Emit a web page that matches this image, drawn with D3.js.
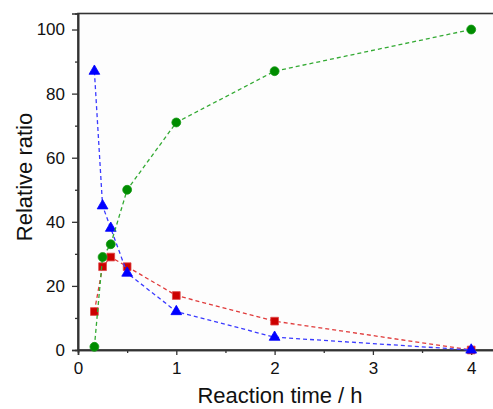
<!DOCTYPE html>
<html>
<head>
<meta charset="utf-8">
<script src="https://cdn.jsdelivr.net/npm/d3@7"></script>
<style>
  body { margin: 0; background: #ffffff; }
  text { font-family: "Liberation Sans", Arial, sans-serif; }
</style>
</head>
<body>
<div id="container"></div>
<script>
let w = 493;
let h = 409;

// reaction time in hours
let times = [1/6, 0.25, 1/3, 0.5, 1, 2, 4];
// relative ratios
let squares = [12, 26, 29, 26, 17, 9, 0];
let triangles = [87, 45, 38, 24, 12, 4, 0];
let circles = [1, 29, 33, 50, 71, 87, 100];

let xTicks = [0, 1, 2, 3, 4];
let xMinor = [0.5, 1.5, 2.5, 3.5];
let yTicks = [0, 20, 40, 60, 80, 100];
let yMinor = [10, 30, 50, 70, 90];

let viz = d3.select('#container')
              .append("svg")
                .attr("width", w)
                .attr("height", h)
                .style("background-color", "#ffffff")
;

let xScale = d3.scaleLinear().domain([0, 4.25]).range([78, 78 + 4.25 * 98.3]);
let yScale = d3.scaleLinear().domain([0, 105]).range([350, 13.5]);

// plot area
viz.append("rect")
    .attr("x", xScale(0))
    .attr("y", yScale(105))
    .attr("width", xScale(4.25) - xScale(0))
    .attr("height", yScale(0) - yScale(105))
    .attr("fill", "#fdfdfd")
    .attr("stroke", "#333")
    .attr("stroke-width", 1.6)
;

function styleAxis(g) {
  g.select(".domain").attr("stroke", "#333").attr("stroke-width", 1.6);
  g.selectAll(".tick line").attr("stroke", "#333").attr("stroke-width", 1.3);
  g.selectAll("text").attr("fill", "#111").style("font-size", "17px")
    .style("font-family", "'Liberation Sans', Arial, sans-serif");
}

//axes
viz.append("g")
    .attr("transform", "translate(0," + yScale(0) + ")")
    .call(d3.axisBottom(xScale).tickValues(xTicks).tickSize(5).tickPadding(7).tickFormat(d3.format("d")))
    .call(styleAxis)
;
viz.append("g")
    .attr("transform", "translate(0," + yScale(0) + ")")
    .call(d3.axisBottom(xScale).tickValues(xMinor).tickSize(3).tickFormat(""))
    .call(styleAxis)
;
viz.append("g")
    .attr("transform", "translate(" + xScale(0) + ",0)")
    .call(d3.axisLeft(yScale).tickValues(yTicks).tickSize(6).tickPadding(7))
    .call(styleAxis)
;
viz.append("g")
    .attr("transform", "translate(" + xScale(0) + ",0)")
    .call(d3.axisLeft(yScale).tickValues(yMinor).tickSize(3).tickFormat(""))
    .call(styleAxis)
;

//titles
viz.append("text")
    .text("Reaction time / h")
    .attr("x", 280)
    .attr("y", 403)
    .attr("text-anchor", "middle")
    .style("font-size", "22px")
    .attr("fill", "#111")
;
viz.append("text")
    .text("Relative ratio")
    .attr("transform", "translate(32,177) rotate(-90)")
    .attr("text-anchor", "middle")
    .style("font-size", "22px")
    .attr("fill", "#111")
;

let line = d3.line().x(d => xScale(d[0])).y(d => yScale(d[1]));

let series = [
  { name: "square", vals: squares, line: "#e03a3a", fill: "#cc0000", stroke: "#e04848", shape: d3.symbolSquare, size: 60 },
  { name: "triangle", vals: triangles, line: "#3a3aff", fill: "#0000ff", stroke: "#0000ff", shape: d3.symbolTriangle, size: 50 },
  { name: "circle", vals: circles, line: "#33aa33", fill: "#008c00", stroke: "#119911", shape: d3.symbolCircle, size: 62 }
];

let groups = viz.selectAll(".series").data(series).enter()
    .append("g")
      .attr("class", "series")
;

groups.append("path")
    .attr("d", d => line(times.map((t, i) => [t, d.vals[i]])))
    .attr("fill", "none")
    .attr("stroke", d => d.line)
    .attr("stroke-width", 1.3)
    .attr("stroke-dasharray", "4,3")
;

groups.each(function(s) {
  d3.select(this).selectAll(".pt")
      .data(times.map((t, i) => [t, s.vals[i]]))
      .enter()
      .append("path")
        .attr("class", "pt")
        .attr("d", d3.symbol().type(s.shape).size(s.size))
        .attr("transform", d => "translate(" + xScale(d[0]) + "," + yScale(d[1]) + ")")
        .attr("fill", s.fill)
        .attr("stroke", s.stroke)
        .attr("stroke-width", 0.8)
  ;
});
</script>
</body>
</html>
